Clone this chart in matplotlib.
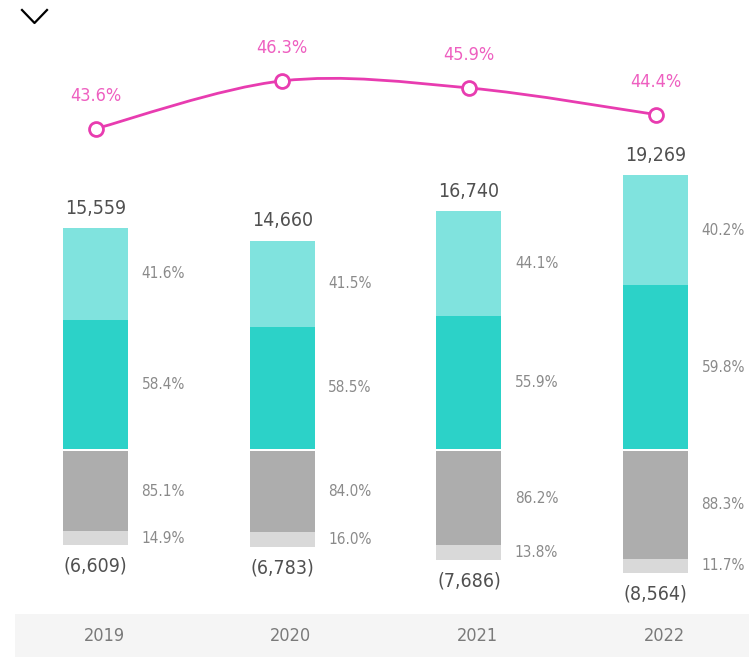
import matplotlib
matplotlib.use("Agg")
import matplotlib.pyplot as plt
from matplotlib.path import Path
from matplotlib.patches import PathPatch, Rectangle
from matplotlib.lines import Line2D

plt.rcParams['font.family'] = ['DejaVu Sans']
plt.rcParams['font.stretch'] = 'condensed'

# ---------------------------
# Data
# ---------------------------
years = ["2019", "2020", "2021", "2022"]
pos_total = [15559, 14660, 16740, 19269]
pos_top_pct = [41.6, 41.5, 44.1, 40.2]      # light teal share
pos_bottom_pct = [58.4, 58.5, 55.9, 59.8]   # dark teal share
neg_total = [6609, 6783, 7686, 8564]
neg_upper_pct = [85.1, 84.0, 86.2, 88.3]    # gray share
neg_lower_pct = [14.9, 16.0, 13.8, 11.7]    # light gray share
ratio_pct = [43.6, 46.3, 45.9, 44.4]

LIGHT_TEAL = "#80e3de"
TEAL = "#2cd2c8"
GRAY = "#adadad"
LIGHT_GRAY = "#d9d9d9"
PINK = "#e83cb0"
PINK_TXT = "#ee5fc0"

W, H = 749, 659
fig = plt.figure(figsize=(W / 100, H / 100), dpi=100)

# grey band behind the year labels
fig.add_artist(Rectangle((15 / W, 2 / H), (W - 15) / W, 43 / H,
                         transform=fig.transFigure, color="#f5f5f5", lw=0, zorder=0))

# chevron at top-left
fig.add_artist(Line2D([22 / W, 34.5 / W, 47 / W], [1 - 10 / H, 1 - 23 / H, 1 - 10 / H],
                      transform=fig.transFigure, color="black", lw=1.6))

ax = fig.add_axes([0.003, 0, 0.997, 1])
ax.patch.set_alpha(0)
ax.axis("off")
units_per_px = 70.5
ax.set_ylim(-(H - 450) * units_per_px, 450 * units_per_px)
ax.set_xlim(-0.5, 3.5)

x = list(range(len(years)))
bw = 0.348
gap = 2.5 * units_per_px

pos_bottom = [t * p / 100 for t, p in zip(pos_total, pos_bottom_pct)]
pos_top = [t * p / 100 for t, p in zip(pos_total, pos_top_pct)]
neg_upper = [-t * p / 100 for t, p in zip(neg_total, neg_upper_pct)]
neg_lower = [-t * p / 100 for t, p in zip(neg_total, neg_lower_pct)]

ax.bar(x, pos_bottom, bw, color=TEAL, bottom=gap / 2, lw=0)
ax.bar(x, pos_top, bw, bottom=[b + gap / 2 for b in pos_bottom], color=LIGHT_TEAL, lw=0)
ax.bar(x, neg_upper, bw, bottom=-gap / 2, color=GRAY, lw=0)
ax.bar(x, neg_lower, bw, bottom=[u - gap / 2 for u in neg_upper], color=LIGHT_GRAY, lw=0)

pct_style = dict(fontsize=11, color="#8a8a8a", va="center", ha="left")
for i in x:
    xr = i + bw / 2 + 0.072
    b = pos_bottom[i] + gap / 2
    ax.text(xr, gap / 2 + pos_bottom[i] / 2, f"{pos_bottom_pct[i]:.1f}%", **pct_style)
    ax.text(xr, b + pos_top[i] / 2, f"{pos_top_pct[i]:.1f}%", **pct_style)
    ax.text(xr, -gap / 2 + neg_upper[i] / 2, f"{neg_upper_pct[i]:.1f}%", **pct_style)
    ax.text(xr, -gap / 2 + neg_upper[i] + neg_lower[i] / 2, f"{neg_lower_pct[i]:.1f}%", **pct_style)

    ax.text(i, b + pos_top[i] + 20 * units_per_px, f"{pos_total[i]:,}",
            ha="center", va="center", fontsize=14, color="#505050")
    ax.text(i, -gap / 2 + neg_upper[i] + neg_lower[i] - 21 * units_per_px, f"({neg_total[i]:,})",
            ha="center", va="center", fontsize=14, color="#505050")

    ax.text(i + 0.045, -(636 - 450) * units_per_px, years[i],
            ha="center", va="center", fontsize=13, color="#7a7a7a")

# ---------------------------
# Ratio line (smooth)
# ---------------------------
lx = ax.twinx()
lx.set_position(ax.get_position())
lx.axis("off")
lx.set_ylim(45.05 - (H - 103) / 17.7, 45.05 + 103 / 17.7)

pts = list(zip(x, ratio_pct))
verts = [pts[0]]
codes = [Path.MOVETO]
for k in range(len(pts) - 1):
    p0 = pts[max(k - 1, 0)]
    p1 = pts[k]
    p2 = pts[k + 1]
    p3 = pts[min(k + 2, len(pts) - 1)]
    c1 = (p1[0] + (p2[0] - p0[0]) / 6, p1[1] + (p2[1] - p0[1]) / 6)
    c2 = (p2[0] - (p3[0] - p1[0]) / 6, p2[1] - (p3[1] - p1[1]) / 6)
    verts += [c1, c2, p2]
    codes += [Path.CURVE4] * 3
lx.add_patch(PathPatch(Path(verts, codes), fill=False, ec=PINK, lw=2))
lx.plot(x, ratio_pct, "o", ms=10, mfc="white", mec=PINK, mew=2)
for i in x:
    lx.text(i, ratio_pct[i] + 33 / 17.7, f"{ratio_pct[i]:.1f}%",
            ha="center", va="center", fontsize=13, color=PINK_TXT)

fig.savefig("out.png", dpi=100)
